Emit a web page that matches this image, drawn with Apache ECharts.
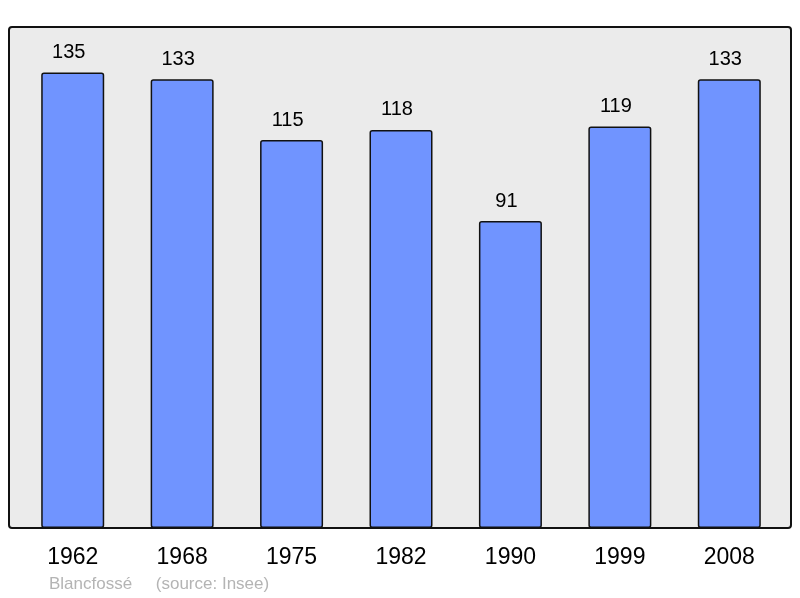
<!DOCTYPE html>
<html>
<head>
<meta charset="utf-8">
<script src="https://cdn.jsdelivr.net/npm/echarts@6/dist/echarts.min.js"></script>
<style>
html, body { margin: 0; padding: 0; background: #fff; }
#main { width: 800px; height: 598px; }
</style>
</head>
<body>
<div id="main"></div>
<script>
var years = ['1962', '1968', '1975', '1982', '1990', '1999', '2008'];
var population = [135, 133, 115, 118, 91, 119, 133];

var myChart = echarts.init(document.getElementById('main'));
var option = {
	animation: false,
	textStyle: { fontFamily: 'Liberation Sans' },
	graphic: [{
		type: 'rect',
		z: -10,
		shape: { x: 9, y: 27, width: 782, height: 501, r: 3 },
		style: { fill: '#ebebeb', stroke: 'none' }
	}, {
		type: 'rect',
		z: 100,
		shape: { x: 9, y: 27, width: 782, height: 501, r: 3 },
		style: { fill: 'none', stroke: '#111', lineWidth: 2 }
	}, {
		type: 'text',
		left: 49,
		top: 576,
		style: {
			text: 'Blancfossé     (source: Insee)',
			fill: '#b4b4b4',
			font: '17px "Liberation Sans"'
		}
	}],
	grid: {
		left: 18,
		right: 16,
		top: 27,
		bottom: 70
	},
	xAxis: {
		type: 'category',
		data: years,
		axisLine: { show: false },
		axisTick: { show: false },
		axisLabel: {
			color: '#000',
			fontSize: 23,
			margin: 18
		}
	},
	yAxis: {
		type: 'value',
		min: 0,
		max: 148.5,
		show: false,
		splitLine: { show: false }
	},
	series: [{
		type: 'bar',
		data: population,
		barWidth: 63,
		itemStyle: {
			color: '#7094ff',
			borderColor: '#111',
			borderWidth: 1.5,
			borderRadius: 2
		},
		label: {
			show: true,
			position: 'top',
			distance: 10,
			offset: [-4, 0],
			color: '#000',
			fontSize: 20
		}
	}]
};
myChart.setOption(option);
</script>
</body>
</html>
